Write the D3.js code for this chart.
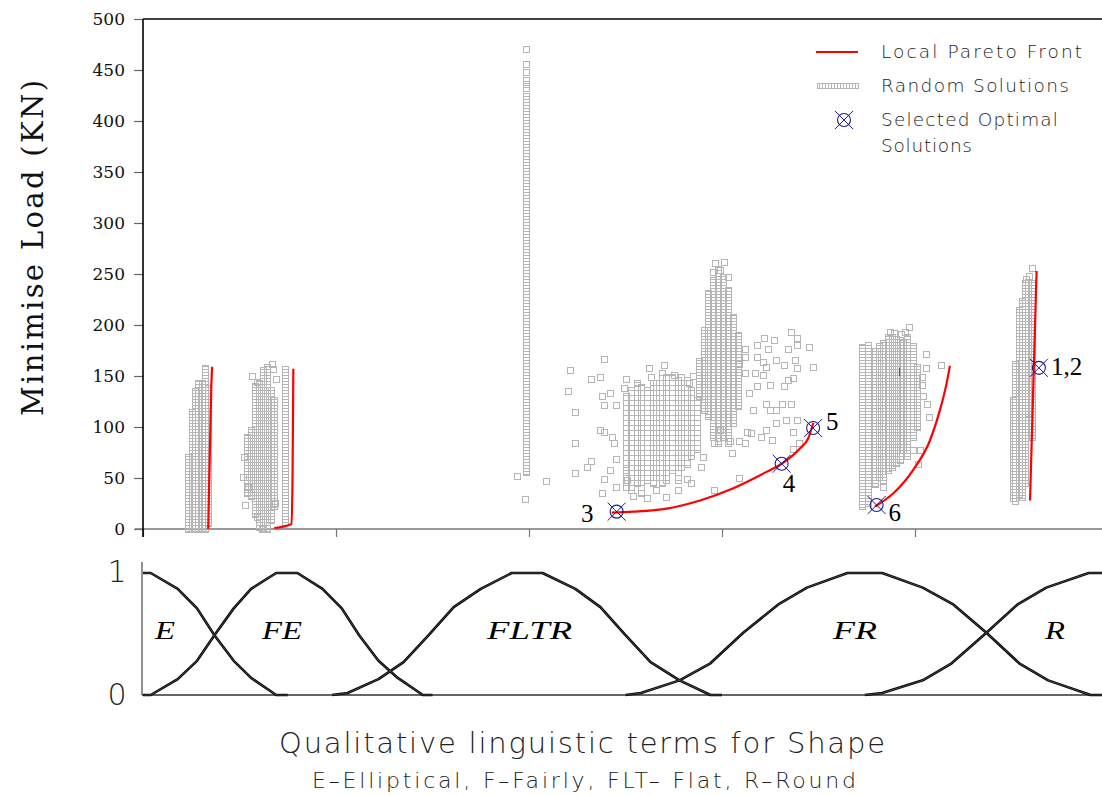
<!DOCTYPE html>
<html><head><meta charset="utf-8">
<script src="https://cdn.jsdelivr.net/npm/d3@7"></script>
<style>body{margin:0;background:#fff}svg{display:block}</style>
</head><body><svg id="c" width="1102" height="796"></svg>
<script>
// ---------- DATA ----------
const xTickValues = [0, 1, 2, 3, 4];
const yTickValues = [0, 50, 100, 150, 200, 250, 300, 350, 400, 450, 500];
const memTickValues = [0, 1];
const yTitle = "Minimise Load (KN)";
const xTitle = "Qualitative linguistic terms for Shape";
const xSubtitle = "E\u2013Elliptical, F\u2013Fairly, FLT\u2013 Flat, R\u2013Round";
const legendLabels = ["Local Pareto Front", "Random Solutions", "Selected Optimal", "Solutions"];

const termNames = ["E", "FE", "FLTR", "FR", "R"];
const termCenters = [0.114, 0.72, 2.003, 3.689, 4.725];

// membership functions [shape, degree]
const memE = [[0,1],[0.04,1],[0.18,0.87],[0.28,0.71],[0.37,0.49],[0.47,0.28],[0.56,0.14],[0.69,0],[0.75,0]];
const memFE = [[0,0],[0.04,0],[0.18,0.13],[0.28,0.28],[0.37,0.49],[0.47,0.71],[0.56,0.87],[0.69,1],[0.80,1],[0.93,0.87],[1.03,0.71],[1.12,0.49],[1.22,0.28],[1.32,0.14],[1.45,0],[1.50,0]];
const memFLTR = [[0.98,0],[1.06,0.016],[1.22,0.13],[1.35,0.27],[1.48,0.49],[1.61,0.72],[1.75,0.87],[1.91,1],[2.07,1],[2.24,0.87],[2.37,0.72],[2.50,0.49],[2.63,0.27],[2.78,0.12],[2.94,0],[3.0,0]];
const memFR = [[2.50,0],[2.58,0.016],[2.78,0.12],[2.94,0.26],[3.11,0.51],[3.29,0.74],[3.44,0.88],[3.65,1],[3.83,1],[4.04,0.88],[4.20,0.74],[4.37,0.51],[4.54,0.26],[4.69,0.12],[4.91,0],[4.97,0]];
const memR = [[3.74,0],[3.83,0.016],[4.04,0.12],[4.19,0.26],[4.37,0.51],[4.53,0.74],[4.68,0.88],[4.90,1],[4.97,1]];

// local Pareto fronts [shape, load]
const frontE = [[0.338,0],[0.343,48],[0.349,97],[0.354,140],[0.358,159]];
const frontFE = [[0.680,1],[0.770,5],[0.775,55],[0.779,157]];
const frontFLTR = [[2.428,16],[2.541,17],[2.713,20],[2.886,28],[3.059,40],[3.231,56],[3.309,64],[3.404,79],[3.447,89],[3.473,104]];
const frontFR = [[3.793,22],[3.888,35],[3.991,58],[4.078,87],[4.13,117],[4.164,143],[4.181,160]];
const frontR = [[4.596,28],[4.630,253]];

// densely stacked random solutions [shape, loadLow, loadHigh]
const ladderStacks = [
  [0.235,0,71],[0.252,0,115],[0.269,0,135],[0.287,0,143],[0.304,0,143],[0.321,0,158],[0.335,6,138],
  [0.537,35,90],[0.558,32,97],[0.580,15,140],[0.601,2,143],[0.622,0,156],[0.642,0,159],[0.663,9,136],[0.679,22,126],
  [0.738,7,157],
  [1.984,56,425],
  [2.88,130,165],[2.907,117,195],[2.927,110,231],[2.953,90,244],[2.979,84,255],[3.005,90,247],[3.031,84,234],[3.057,104,208],[3.083,120,190],
  [3.723,22,178],[3.759,25,180],
  [3.793,45,175],[3.815,51,179],[3.836,48,182],[3.858,58,188],[3.879,61,188],[3.902,64,186],[3.92,67,185],[3.94,77,182],[3.96,71,188],[3.99,90,179],[4.01,100,159],
  [4.506,30,126],[4.518,28,162],[4.538,35,215],[4.555,32,224],[4.570,45,241],[4.587,114,242],[4.605,90,241]
];
// loosely stacked random solutions [shape, loadLow, loadHigh]
const cloudStacks = [
  [2.50,41,130],[2.53,38,136],[2.56,45,141],[2.58,35,139],[2.61,48,136],[2.64,45,143],[2.66,51,143],
  [2.69,45,153],[2.71,48,149],[2.74,58,149],[2.77,48,146],[2.79,61,143],[2.82,64,146],[2.84,71,136],[2.87,78,126]
];
// individual random solutions [shape, load]
const randomPoints = [
  [0.667,162],[0.675,157],[0.687,147],[0.563,150],[0.589,144],[0.528,24],[0.520,51],[0.546,41],[0.525,71],[0.589,12],[0.684,25],[0.615,0],
  [1.984,471],[1.984,456],[1.984,448],[1.984,440],[1.984,436],[1.984,432],
  [2.21,156],[2.20,135],[2.24,115],[2.24,84],[2.24,55],[2.32,147],[2.37,149],[2.39,167],[2.32,67],[2.30,61],[2.09,47],[1.94,52],[1.98,29],
  [2.38,130],[2.39,122],[2.45,122],[2.42,133],[2.50,147],[2.49,138],[2.56,143],[2.62,158],[2.70,161],[2.63,149],[2.75,151],[2.79,149],[2.85,150],[2.83,143],
  [2.39,95],[2.37,97],[2.43,90],[2.44,84],[2.45,69],[2.42,58],[2.39,49],[2.38,35],[2.45,41],[2.51,48],[2.50,58],[2.54,32],[2.61,30],[2.66,38],[2.71,31],
  [2.77,38],[2.82,49],[2.84,45],[2.89,61],[2.90,71],[2.96,38],[2.96,84],[2.99,97],[3.04,86],[3.05,75],[3.09,86],[3.12,84],[3.09,50],[3.13,95],[3.15,94],
  [3.20,90],[3.23,97],[3.26,87],[3.28,104],[3.31,123],[3.23,123],[3.25,117],[3.28,117],[3.36,123],[3.39,107],[3.37,95],[3.40,84],[3.37,78],[3.33,107],
  [3.16,117],[3.12,176],[3.18,180],[3.22,187],[3.27,185],[3.24,176],[3.34,176],[3.39,180],[3.45,178],[3.36,193],[3.39,187],[3.18,169],[3.21,164],
  [3.23,159],[3.28,166],[3.32,161],[3.38,166],[3.39,158],[3.47,159],[3.17,153],[3.21,151],[3.25,141],[3.32,140],[3.34,146],[3.37,148],[3.18,140],
  [3.14,133],[3.12,153],[3.09,162],[3.12,169],[2.965,261],[3.01,262],[2.99,254],[3.03,247],[2.955,252],
  [3.969,198],[4.057,172],[4.133,161],[4.057,158],[4.074,110],[3.833,41],[4.026,77],[4.035,141],[4.043,130],[4.064,123],[4.035,149],[3.99,77],[4.016,64],
  [3.89,192],[3.87,193],[3.95,193],[3.93,191],
  [4.605,256],[4.59,248],[4.575,245]
];
// selected optimal solutions
const selectedLabels = ["3", "4", "5", "6", "1,2"];
const selectedShape = [2.454, 3.309, 3.472, 3.801, 4.642];
const selectedLoad = [17, 64, 99, 23.5, 158];
const oddMark = [3.92, 150, 158];

// ---------- LAYOUT ----------
const svg = d3.select("#c");
const x = d3.scaleLinear().domain([0, 5]).range([143, 1108]);
const y = d3.scaleLinear().domain([0, 500]).range([529, 19]);
const yM = d3.scaleLinear().domain([0, 1]).range([695, 573]);
const SQ = "#b5b5b5";
const NAVY = "#1c1c8e";
const sans = "'DejaVu Sans', 'Open Sans', sans-serif";
const serif = "'DejaVu Serif', 'Liberation Serif', serif";
const mathIt = "'Liberation Serif', 'DejaVu Serif', serif";

const defs = svg.append("defs");
function hPattern(id, h) {
  defs.append("pattern").attr("id", id).attr("patternUnits", "userSpaceOnUse")
    .attr("width", 12).attr("height", h)
    .append("line").attr("x1", 0).attr("x2", 12).attr("y1", 0.5).attr("y2", 0.5)
    .attr("stroke", SQ).attr("stroke-width", 1);
}
hPattern("ladder", 3);
hPattern("cloud", 5);
defs.append("pattern").attr("id", "vlad").attr("patternUnits", "userSpaceOnUse")
  .attr("width", 3).attr("height", 10)
  .append("line").attr("x1", 0.5).attr("x2", 0.5).attr("y1", 0).attr("y2", 10)
  .attr("stroke", SQ).attr("stroke-width", 1);

// ---------- TOP PANEL AXES ----------
const yAxis = svg.append("g").attr("transform", "translate(143,0)")
  .call(d3.axisLeft(y).tickValues(yTickValues).tickSize(9).tickPadding(9));
yAxis.select(".domain").remove();
yAxis.selectAll(".tick line").attr("stroke", "#666").attr("stroke-width", 1.2);
yAxis.selectAll(".tick text").attr("font-family", serif).attr("font-size", 17).attr("fill", "#111");

const xAxis = svg.append("g").attr("transform", "translate(0,529)")
  .call(d3.axisBottom(x).tickValues(xTickValues).tickSize(8).tickFormat(""));
xAxis.select(".domain").remove();
xAxis.selectAll(".tick line").attr("stroke", "#777").attr("stroke-width", 1.2);

svg.append("line").attr("x1", 135).attr("x2", 1102).attr("y1", 529).attr("y2", 529)
  .attr("stroke", "#777").attr("stroke-width", 1.5);
svg.append("line").attr("x1", 143).attr("x2", 1102).attr("y1", y(500)).attr("y2", y(500))
  .attr("stroke", "#000").attr("stroke-width", 1.5);
svg.append("line").attr("x1", 143).attr("x2", 143).attr("y1", y(500)).attr("y2", 537)
  .attr("stroke", "#000").attr("stroke-width", 1.6);

svg.append("text").attr("transform", "translate(43,248) rotate(-90)")
  .attr("text-anchor", "middle").attr("font-family", serif).attr("font-size", 29)
  .attr("fill", "#111").attr("textLength", 336).attr("lengthAdjust", "spacing").text(yTitle);

// ---------- RANDOM SOLUTIONS ----------
const pts = svg.append("g");
function stack(data, pat) {
  pts.selectAll(null).data(data).join("rect")
    .attr("x", d => Math.round(x(d[0]) - 3) + 0.5)
    .attr("y", d => Math.round(y(d[2]) - 3) + 0.5)
    .attr("width", 6)
    .attr("height", d => Math.max(6, Math.round(y(d[1]) - y(d[2]) + 6)))
    .attr("fill", `url(#${pat})`).attr("stroke", SQ).attr("stroke-width", 1);
}
stack(cloudStacks, "cloud");
stack(ladderStacks, "ladder");
pts.selectAll(null).data(randomPoints).join("rect")
  .attr("x", d => Math.round(x(d[0]) - 3) + 0.5)
  .attr("y", d => Math.round(y(d[1]) - 3) + 0.5)
  .attr("width", 6).attr("height", 6)
  .attr("fill", "none").attr("stroke", SQ).attr("stroke-width", 1);

// ---------- FRONTS ----------
const frontLine = d3.line().x(d => x(d[0])).y(d => y(d[1])).curve(d3.curveMonotoneX);
svg.append("g").selectAll("path").data([frontE, frontFE, frontFLTR, frontFR, frontR]).join("path")
  .attr("d", frontLine).attr("fill", "none").attr("stroke", "#ff0000").attr("stroke-width", 2.2);

svg.append("line").attr("x1", x(oddMark[0])).attr("x2", x(oddMark[0]))
  .attr("y1", y(oddMark[1])).attr("y2", y(oddMark[2])).attr("stroke", "#8a1a9a").attr("stroke-width", 1);

// ---------- SELECTED ----------
function marker(g, cx, cy) {
  g.append("circle").attr("cx", cx).attr("cy", cy).attr("r", 6.5)
    .attr("fill", "none").attr("stroke", NAVY).attr("stroke-width", 1.1);
  g.append("line").attr("x1", cx - 9).attr("y1", cy - 9).attr("x2", cx + 9).attr("y2", cy + 9)
    .attr("stroke", NAVY).attr("stroke-width", 1);
  g.append("line").attr("x1", cx - 9).attr("y1", cy + 9).attr("x2", cx + 9).attr("y2", cy - 9)
    .attr("stroke", NAVY).attr("stroke-width", 1);
}
const labelOffsets = { "3": [-23, 10, "end"], "4": [1, 28, "start"], "5": [13, 2, "start"], "6": [12, 16, "start"], "1,2": [12, 7, "start"] };
const sel = svg.append("g");
selectedLabels.forEach((lab, i) => {
  const cx = x(selectedShape[i]), cy = y(selectedLoad[i]);
  marker(sel, cx, cy);
  const o = labelOffsets[lab];
  sel.append("text").attr("x", cx + o[0]).attr("y", cy + o[1]).attr("text-anchor", o[2])
    .attr("font-family", mathIt).attr("font-size", 25).attr("fill", "#000").text(lab);
});

// ---------- LEGEND ----------
const lg = svg.append("g");
lg.append("line").attr("x1", 816).attr("x2", 858).attr("y1", 52).attr("y2", 52)
  .attr("stroke", "#ff0000").attr("stroke-width", 2.2);
lg.append("rect").attr("x", 817.5).attr("y", 83.5).attr("width", 41).attr("height", 5)
  .attr("fill", "url(#vlad)").attr("stroke", SQ).attr("stroke-width", 1);
marker(lg, 844, 120);
const legY = [58, 92, 126, 152];
const legW = [201, 188, 177, 91];
legendLabels.forEach((t, i) => {
  lg.append("text").attr("x", 881).attr("y", legY[i]).attr("font-family", sans)
    .attr("font-weight", 200).attr("font-size", 18.5).attr("fill", "#222")
    .attr("textLength", legW[i]).attr("lengthAdjust", "spacing").text(t);
});

// ---------- LOWER PANEL ----------
const low = svg.append("g");
low.append("line").attr("x1", 142).attr("x2", 142).attr("y1", 562).attr("y2", yM(0))
  .attr("stroke", "#555").attr("stroke-width", 1.3);
low.append("line").attr("x1", 142).attr("x2", 1102).attr("y1", yM(0)).attr("y2", yM(0))
  .attr("stroke", "#333").attr("stroke-width", 1.3);
low.selectAll(".mt").data(memTickValues).join("text")
  .attr("x", 117).attr("y", d => d === 1 ? yM(d) + 9 : yM(d) + 10)
  .attr("text-anchor", "middle").attr("font-family", sans).attr("font-weight", 200)
  .attr("font-size", 30).attr("fill", "#222").text(d => d);
const memLine = d3.line().x(d => x(d[0])).y(d => yM(d[1]));
const mems = [memE, memFE, memFLTR, memFR, memR];
low.selectAll(".m1").data(mems).join("path").attr("d", memLine)
  .attr("fill", "none").attr("stroke", "#000").attr("stroke-width", 2.6).attr("stroke-linejoin", "round");
low.selectAll(".m2").data(mems).join("path").attr("d", memLine)
  .attr("fill", "none").attr("stroke", "#777").attr("stroke-width", 0.6);
const termW = [20, 40, 85, 44, 20];
termNames.forEach((t, i) => {
  low.append("text").attr("x", x(termCenters[i])).attr("y", 639).attr("text-anchor", "middle")
    .attr("font-family", mathIt).attr("font-style", "italic").attr("font-weight", 400).attr("font-size", 26)
    .attr("fill", "#000").attr("textLength", termW[i]).attr("lengthAdjust", "spacingAndGlyphs").text(t);
});

// ---------- TITLES ----------
svg.append("text").attr("x", 582).attr("y", 753).attr("text-anchor", "middle")
  .attr("font-family", sans).attr("font-weight", 200).attr("font-size", 29).attr("fill", "#222")
  .attr("textLength", 606).attr("lengthAdjust", "spacing").text(xTitle);
svg.append("text").attr("x", 584).attr("y", 788).attr("text-anchor", "middle")
  .attr("font-family", sans).attr("font-weight", 200).attr("font-size", 22).attr("fill", "#222")
  .attr("textLength", 544).attr("lengthAdjust", "spacing").text(xSubtitle);
</script>
</body></html>
